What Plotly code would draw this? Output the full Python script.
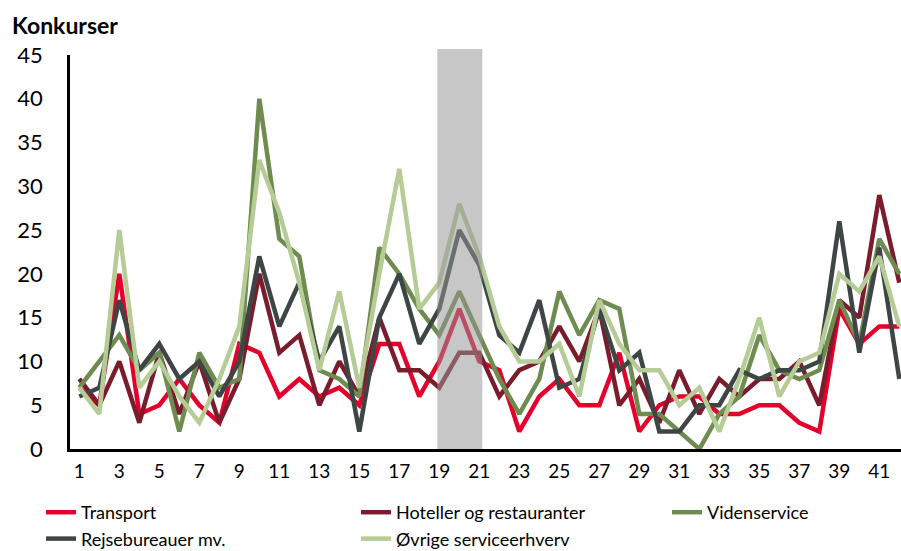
import plotly.graph_objects as go

weeks = list(range(1, 43))

transport = [7, 5, 20, 4, 5, 8, 5, 3, 12, 11, 6,
             8, 6, 7, 5, 12, 12, 6, 10, 16, 10,
             9, 2, 6, 8, 5, 5, 11, 2, 5, 6, 6, 4,
             4, 5, 5, 3, 2, 16, 12, 14, 14]
hoteller = [8, 5, 10, 3, 11, 4, 10, 3, 8, 20, 11,
            13, 5, 10, 6, 15, 9, 9, 7, 11, 11,
            6, 9, 10, 14, 10, 16, 5, 8, 3, 9, 4, 8,
            6, 8, 8, 10, 5, 17, 15, 29, 19]
videnservice = [7, 10, 13, 9, 11, 2, 11, 7, 8, 40, 24,
                22, 9, 8, 6, 23, 20, 16, 13, 18, 13,
                8, 4, 8, 18, 13, 17, 16, 4, 4, 2, 0, 4,
                6, 13, 9, 8, 9, 17, 12, 24, 20]
rejsebureauer = [6, 7, 17, 9, 12, 8, 10, 6, 10, 22, 14,
                 19, 10, 14, 2, 15, 20, 12, 16, 25, 21,
                 13, 11, 17, 7, 8, 16, 9, 11, 2, 2, 5, 5,
                 9, 8, 9, 9, 10, 26, 11, 23, 8]
oevrige = [7, 4, 25, 7, 10, 6, 3, 8, 14, 33, 27,
           19, 9, 18, 7, 20, 32, 16, 19, 28, 22,
           14, 10, 10, 12, 6, 17, 12, 9, 9, 5, 7, 2,
           8, 15, 6, 10, 11, 20, 18, 22, 14]

series_names = ["Transport", "Hoteller og restauranter", "Videnservice",
                "Rejsebureauer mv.", "Øvrige serviceerhverv"]
series_values = [transport, hoteller, videnservice, rejsebureauer, oevrige]
series_colors = ["#E4002B", "#7A1C2C", "#6E8B50", "#3D4545", "#B5CC96"]
series_legend = ["legend", "legend2", "legend3", "legend", "legend2"]

y_ticks = [0, 5, 10, 15, 20, 25, 30, 35, 40, 45]
x_ticks = list(range(1, 42, 2))

band_start, band_end = 18.9, 21.15

fig = go.Figure()
for name, vals, col, lg in zip(series_names, series_values, series_colors, series_legend):
    fig.add_trace(go.Scatter(
        x=weeks, y=vals, mode="lines", name=name, legend=lg,
        line=dict(color=col, width=4.5, shape="linear"),
    ))

fig.add_shape(type="rect", xref="x", yref="paper",
              x0=band_start, x1=band_end, y0=0, y1=1.015,
              fillcolor="rgba(150,150,150,0.53)", line=dict(width=0),
              layer="above")

FONT = "Lato, 'Open Sans', sans-serif"

fig.add_annotation(text="<b>Konkurser</b>", xref="paper", yref="paper",
                   x=(10 - 70) / 831, y=1 + (55 - 25) / 394,
                   xanchor="left", yanchor="middle", showarrow=False,
                   font=dict(size=23, family=FONT, color="black"))

leg_common = dict(orientation="v", xref="container", yref="container",
                  xanchor="left", yanchor="top",
                  font=dict(size=18, family=FONT, color="black"),
                  bgcolor="rgba(0,0,0,0)", tracegroupgap=0)
legend_top = 1 - 494 / 551

fig.update_layout(
    width=901, height=551,
    margin=dict(l=70, r=0, t=55, b=102, autoexpand=False),
    paper_bgcolor="white", plot_bgcolor="white",
    font=dict(family=FONT, color="black"),
    showlegend=True,
    legend=dict(x=41 / 901, y=legend_top, **leg_common),
    legend2=dict(x=356 / 901, y=legend_top, **leg_common),
    legend3=dict(x=667 / 901, y=legend_top, **leg_common),
    xaxis=dict(range=[0.535, 42.085], tickmode="array", tickvals=x_ticks,
               ticktext=[str(t) for t in x_ticks], showgrid=False, zeroline=False,
               showline=True, linecolor="black", linewidth=3, ticks="",
               automargin=False,
               tickfont=dict(size=19, family=FONT, color="black"),
               ticklabelstandoff=3),
    yaxis=dict(range=[0, 45], tickmode="array", tickvals=y_ticks,
               ticktext=[str(t) for t in y_ticks], showgrid=False, zeroline=False,
               showline=True, linecolor="black", linewidth=2.5, ticks="",
               automargin=False,
               tickfont=dict(size=22, family=FONT, color="black"),
               ticklabelstandoff=20),
)

fig.write_html("out.html", config={"displayModeBar": False},
               post_script="document.body.style.margin='0';document.body.style.padding='0';document.body.style.overflow='hidden';")
